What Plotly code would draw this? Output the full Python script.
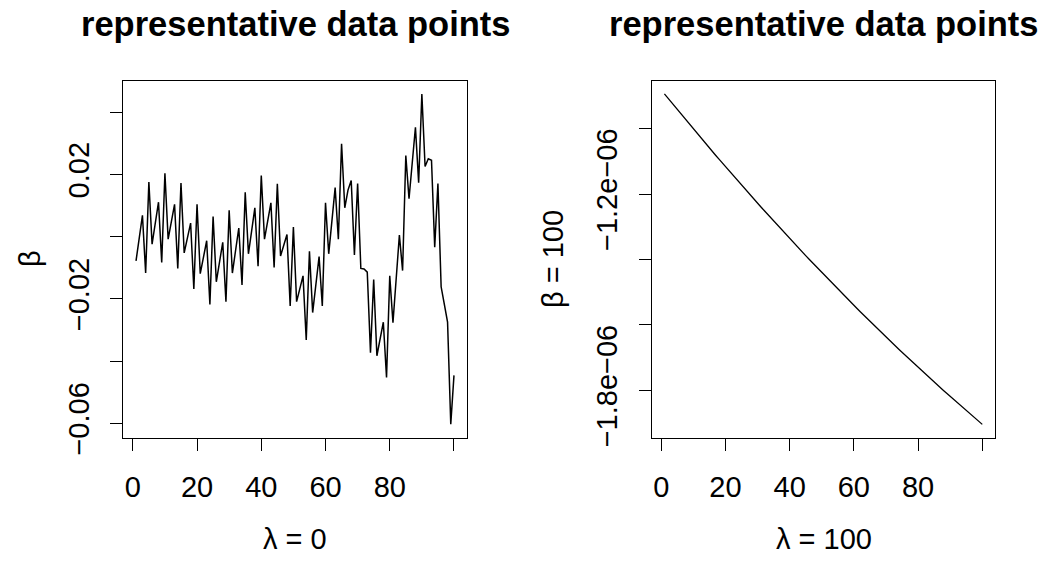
import plotly.graph_objects as go

# ---------------- data ----------------
x_index = list(range(1, 101))

beta_lambda0 = [
    -0.0078, -0.0004, 0.0069, -0.0117, 0.0176, -0.0024, 0.0044, 0.0111, -0.0083, 0.0204,
    -0.0008, 0.0048, 0.0104, -0.0102, 0.0173, -0.0052, -0.0004, 0.0044, -0.0168, 0.0104,
    -0.0119, -0.0066, -0.0013, -0.0218, 0.0065, -0.0145, -0.0081, -0.0018, -0.0209, 0.0085,
    -0.0117, -0.0045, 0.0028, -0.0155, 0.0143, -0.0055, 0.0020, 0.0093, -0.0095, 0.0197,
    -0.0008, 0.0050, 0.0109, -0.0099, 0.0170, -0.0062, -0.0026, 0.0007, -0.0223, 0.0031,
    -0.0209, -0.0166, -0.0126, -0.0332, -0.0047, -0.0244, -0.0153, -0.0064, -0.0223, 0.0109,
    -0.0055, 0.0052, 0.0158, -0.0008, 0.0299, 0.0093, 0.0150, 0.0181, -0.0059, 0.0171,
    -0.0102, -0.0104, -0.0114, -0.0373, -0.0138, -0.0383, -0.0329, -0.0275, -0.0453, -0.0126,
    -0.0277, -0.0136, 0.0005, -0.0109, 0.0261, 0.0122, 0.0237, 0.0352, 0.0174, 0.0459,
    0.0226, 0.0251, 0.0246, -0.0034, 0.0171, -0.0161, -0.0218, -0.0275, -0.0603, -0.0446,
]

# values in units of 1e-06
beta_lambda100_micro = [
    -0.8940, -0.9060, -0.9180, -0.9300, -0.9419, -0.9538, -0.9656, -0.9775, -0.9892, -1.0010,
    -1.0127, -1.0243, -1.0359, -1.0475, -1.0591, -1.0706, -1.0821, -1.0935, -1.1049, -1.1163,
    -1.1276, -1.1389, -1.1501, -1.1613, -1.1725, -1.1836, -1.1947, -1.2058, -1.2168, -1.2278,
    -1.2387, -1.2496, -1.2605, -1.2714, -1.2822, -1.2929, -1.3036, -1.3143, -1.3250, -1.3356,
    -1.3462, -1.3567, -1.3672, -1.3777, -1.3881, -1.3985, -1.4088, -1.4192, -1.4294, -1.4397,
    -1.4499, -1.4600, -1.4702, -1.4803, -1.4903, -1.5003, -1.5103, -1.5202, -1.5301, -1.5400,
    -1.5498, -1.5596, -1.5694, -1.5791, -1.5888, -1.5984, -1.6080, -1.6176, -1.6271, -1.6366,
    -1.6461, -1.6555, -1.6649, -1.6742, -1.6835, -1.6928, -1.7020, -1.7112, -1.7203, -1.7294,
    -1.7385, -1.7476, -1.7566, -1.7655, -1.7745, -1.7833, -1.7922, -1.8010, -1.8098, -1.8185,
    -1.8273, -1.8359, -1.8446, -1.8531, -1.8617, -1.8702, -1.8787, -1.8872, -1.8956, -1.9039,
]
beta_lambda100 = [v * 1e-6 for v in beta_lambda100_micro]

x_tickvals = [0, 20, 40, 60, 80, 100]
x_ticktext = ["0", "20", "40", "60", "80", ""]

left_tickvals = [-0.06, -0.04, -0.02, 0.0, 0.02, 0.04]
left_ticktext = ["\u22120.06", "", "\u22120.02", "", "0.02", ""]

right_tickvals = [-1.8e-6, -1.6e-6, -1.4e-6, -1.2e-6, -1.0e-6]
right_ticktext = ["\u22121.8e\u221206", "", "", "\u22121.2e\u221206", ""]

panel_title = "representative data points"
left_xlabel = "\u03bb = 0"
left_ylabel = "\u03b2"
right_xlabel = "\u03bb = 100"
right_ylabel = "\u03b2 = 100"

# ---------------- figure ----------------
W, H = 1049, 573
FONT = "Liberation Sans, Arial, Helvetica, sans-serif"
TICK_SIZE = 29
TITLE_SIZE = 34.5

def px_x(p):
    return p / W

def px_y(p):
    return (H - p) / H

fig = go.Figure()
fig.add_trace(go.Scatter(x=x_index, y=beta_lambda0, mode="lines",
                         line=dict(color="black", width=1.5),
                         xaxis="x", yaxis="y", showlegend=False))
fig.add_trace(go.Scatter(x=x_index, y=beta_lambda100, mode="lines",
                         line=dict(color="black", width=1.3),
                         xaxis="x2", yaxis="y2", showlegend=False))

ydom = [px_y(451.7), px_y(83.3)]

common_axis = dict(showline=True, linecolor="black", linewidth=1, mirror=True,
                   ticks="outside", ticklen=12, tickwidth=1, tickcolor="black",
                   showgrid=False, zeroline=False,
                   tickfont=dict(family=FONT, size=TICK_SIZE, color="black"))

fig.update_layout(
    width=W, height=H,
    autosize=False,
    margin=dict(l=0, r=0, t=0, b=0),
    paper_bgcolor="white", plot_bgcolor="white",
    font=dict(family=FONT, color="black"),
    xaxis=dict(domain=[px_x(123.3), px_x(466.7)], range=[-2.96, 103.96],
               tickmode="array", tickvals=x_tickvals, ticktext=x_ticktext,
               anchor="y", ticklabelstandoff=12, **common_axis),
    yaxis=dict(domain=ydom, range=[-0.0646, 0.0502],
               tickmode="array", tickvals=left_tickvals, ticktext=left_ticktext,
               tickangle=-90, anchor="x", ticklabelstandoff=10, **common_axis),
    xaxis2=dict(domain=[px_x(651.7), px_x(995)], range=[-2.96, 103.96],
                tickmode="array", tickvals=x_tickvals, ticktext=x_ticktext,
                anchor="y2", ticklabelstandoff=12, **common_axis),
    yaxis2=dict(domain=ydom, range=[-1.944e-6, -0.8536e-6],
                tickmode="array", tickvals=right_tickvals, ticktext=right_ticktext,
                tickangle=-90, anchor="x2", ticklabelstandoff=10, **common_axis),
)

annos = [
    dict(text="<b>" + panel_title + "</b>", x=px_x(295), y=px_y(25),
         font=dict(size=TITLE_SIZE)),
    dict(text="<b>" + panel_title + "</b>", x=px_x(823.5), y=px_y(25),
         font=dict(size=TITLE_SIZE)),
    dict(text=left_xlabel, x=px_x(295), y=px_y(556), font=dict(size=TICK_SIZE)),
    dict(text=right_xlabel, x=px_x(823.5), y=px_y(556), font=dict(size=TICK_SIZE)),
    dict(text=left_ylabel, x=px_x(30), y=px_y(267.5), textangle=-90,
         font=dict(size=TICK_SIZE)),
    dict(text=right_ylabel, x=px_x(553), y=px_y(267.5), textangle=-90,
         font=dict(size=TICK_SIZE)),
]
for a in annos:
    a.update(xref="paper", yref="paper", showarrow=False,
             xanchor="center", yanchor="middle")
    a["font"].update(family=FONT, color="black")
    fig.add_annotation(**a)

post_js = (
    "var de=document.documentElement, bd=document.body;"
    "de.style.margin='0';de.style.padding='0';de.style.overflow='hidden';"
    "bd.style.margin='0';bd.style.padding='0';bd.style.overflow='hidden';"
    "var gd=document.getElementById('{plot_id}');"
    "gd.style.position='fixed';gd.style.left='0px';gd.style.top='0px';"
)

fig.write_html("out.html", post_script=post_js,
               config={"displayModeBar": False},
               default_width="1049px", default_height="573px")
